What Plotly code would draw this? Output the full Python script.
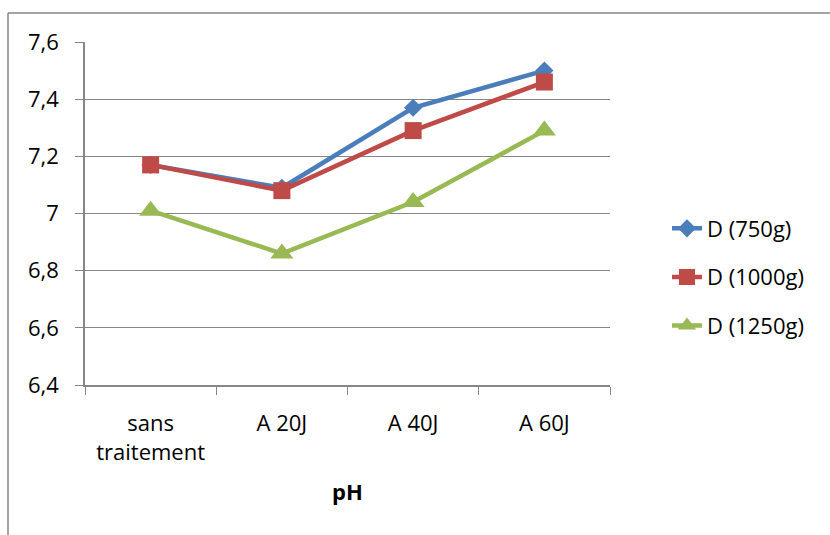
import plotly.graph_objects as go

categories = ["sans<br>traitement", "A 20J", "A 40J", "A 60J"]
d750 = [7.17, 7.09, 7.37, 7.50]
d1000 = [7.17, 7.08, 7.29, 7.46]
d1250 = [7.01, 6.86, 7.04, 7.29]
y_ticks = [6.4, 6.6, 6.8, 7.0, 7.2, 7.4, 7.6]
y_labels = ["6,4", "6,6", "6,8", "7", "7,2", "7,4", "7,6"]

FONT = "Open Sans, Roboto, Arial, sans-serif"
FS = 22
GRID = "#868686"

series = [
    ("D (750g)", d750, "#4A7EBB", "diamond", 14),
    ("D (1000g)", d1000, "#BE4B48", "square", 17),
    ("D (1250g)", d1250, "#98B954", "triangle-up", 20),
]

fig = go.Figure()
for name, vals, color, symbol, msize in series:
    fig.add_trace(go.Scatter(
        x=categories, y=vals, name=name, mode="lines+markers",
        line=dict(color=color, width=4.5),
        marker=dict(symbol=symbol, size=msize, color=color),
        legendgroup=name,
    ))

L, R, T, B = 85, 220, 42, 150
W, H = 830, 535
pw, ph = W - L - R, H - T - B

def px_x(p):
    return (p - L) / pw

def px_y(p):
    return (H - B - p) / ph

fig.update_layout(
    width=W, height=H,
    margin=dict(l=L, r=R, t=T, b=B),
    paper_bgcolor="white", plot_bgcolor="white",
    font=dict(family=FONT, size=FS, color="#000000"),
    showlegend=True,
    legend=dict(
        x=px_x(667), y=px_y(277), xanchor="left", yanchor="middle",
        font=dict(size=FS), tracegroupgap=17, traceorder="grouped",
        bgcolor="rgba(0,0,0,0)",
    ),
    xaxis=dict(
        type="category", range=[-0.5, 3.5],
        showgrid=False, showline=True, linecolor=GRID, linewidth=1.5,
        ticks="outside", tickson="boundaries", ticklen=8, tickcolor=GRID,
        ticklabelstandoff=18,
        title=dict(text="<b>pH</b>", font=dict(size=FS), standoff=20),
        tickfont=dict(size=FS),
    ),
    yaxis=dict(
        range=[6.4, 7.6], tickvals=y_ticks, ticktext=y_labels,
        showgrid=True, gridcolor=GRID, gridwidth=1,
        showline=True, linecolor=GRID, linewidth=1.5,
        ticks="outside", ticklen=8, tickcolor=GRID,
        ticklabelstandoff=12,
        tickfont=dict(size=FS), zeroline=False,
    ),
    shapes=[
        dict(type="line", xref="paper", yref="paper",
             x0=px_x(8), x1=px_x(840), y0=px_y(13), y1=px_y(13),
             line=dict(color=GRID, width=1.5)),
        dict(type="line", xref="paper", yref="paper",
             x0=px_x(8), x1=px_x(8), y0=px_y(13), y1=px_y(545),
             line=dict(color=GRID, width=1.5)),
    ],
)

fig.write_html("out.html")
